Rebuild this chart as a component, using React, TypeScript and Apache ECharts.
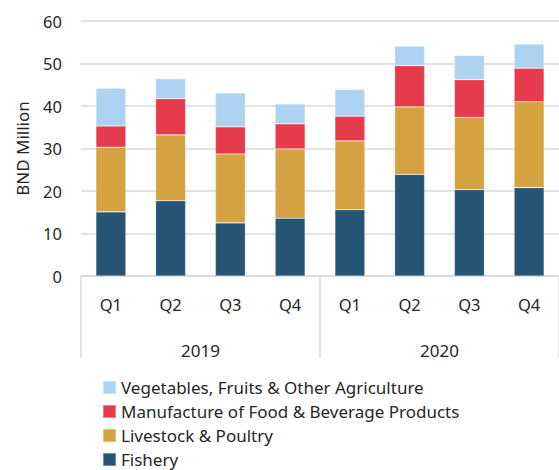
import React, { useEffect, useRef } from "react";
import * as echarts from "echarts";

const quarters = ["Q1", "Q2", "Q3", "Q4", "Q1", "Q2", "Q3", "Q4"];
const years = ["2019", "2020"];
const fishery = [15.1, 17.7, 12.5, 13.6, 15.6, 23.9, 20.3, 20.8];
const livestock = [15.2, 15.5, 16.2, 16.3, 16.2, 15.9, 17.0, 20.2];
const manufacture = [5.0, 8.5, 6.4, 5.9, 5.8, 9.7, 8.9, 7.9];
const vegetables = [8.9, 4.7, 8.0, 4.7, 6.3, 4.6, 5.7, 5.7];
const yTicks = { min: 0, max: 60, interval: 10 };

const FONT = "Noto Sans";
const TEXT = "#262626";

export default function App() {
  const ref = useRef<HTMLDivElement>(null);
  useEffect(() => {
    const chart = echarts.init(ref.current!, null, { renderer: "svg" });
    const mk = (name: string, data: number[], color: string) => ({
      name,
      type: "bar",
      stack: "total",
      data,
      barWidth: 30,
      xAxisIndex: 0,
      itemStyle: { color, borderColor: "rgba(255,255,255,0.35)", borderWidth: 0.6 },
    });
    chart.setOption({
      animation: false,
      textStyle: { fontFamily: FONT, color: TEXT },
      grid: { left: 81, top: 21, width: 482, height: 255 },
      xAxis: [
        {
          type: "category",
          data: quarters,
          position: "bottom",
          axisLine: { show: true, lineStyle: { color: "#D9D9D9", width: 1.5 } },
          axisTick: { show: false },
          axisLabel: { fontSize: 16.5, color: TEXT, margin: 20, fontFamily: FONT },
        },
        {
          type: "category",
          data: years,
          position: "bottom",
          axisLine: { show: false },
          axisTick: {
            show: true,
            length: 82,
            alignWithLabel: false,
            lineStyle: { color: "#D9D9D9", width: 1.5 },
          },
          axisLabel: { fontSize: 17, color: TEXT, margin: 66, fontFamily: FONT },
        },
      ],
      yAxis: {
        type: "value",
        min: yTicks.min,
        max: yTicks.max,
        interval: yTicks.interval,
        name: "BND Million",
        nameLocation: "middle",
        nameRotate: 90,
        nameGap: 50,
        nameTextStyle: { fontSize: 17, color: TEXT, fontFamily: FONT },
        axisLine: { show: false },
        axisTick: { show: false },
        axisLabel: { fontSize: 16.5, color: TEXT, margin: 19, fontFamily: FONT },
        splitLine: { lineStyle: { color: "#D9D9D9", width: 1.5 } },
      },
      legend: {
        orient: "vertical",
        left: 102,
        top: 379,
        height: 110,
        padding: 0,
        itemWidth: 13,
        itemHeight: 13,
        itemGap: 7,
        icon: "rect",
        textStyle: { fontSize: 17, color: TEXT, fontFamily: FONT },
        data: [
          "Vegetables, Fruits & Other Agriculture",
          "Manufacture of Food & Beverage Products",
          "Livestock & Poultry",
          "Fishery",
        ],
      },
      series: [
        mk("Fishery", fishery, "#265475"),
        mk("Livestock & Poultry", livestock, "#D4A240"),
        mk("Manufacture of Food & Beverage Products", manufacture, "#E63B4A"),
        mk("Vegetables, Fruits & Other Agriculture", vegetables, "#ACD4F2"),
      ],
    });
    return () => chart.dispose();
  }, []);
  return (
    <div
      ref={ref}
      style={{ position: "absolute", left: 0, top: 0, width: 559, height: 470 }}
    />
  );
}
